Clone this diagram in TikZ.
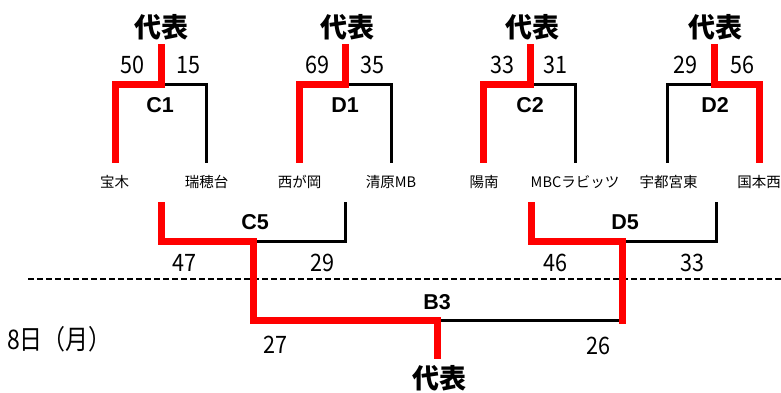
\documentclass[tikz,border=0pt]{standalone}
\usepackage{fontspec}
\newfontfamily\jp{Noto Sans CJK JP}
\newfontfamily\jpn{Noto Sans CJK JP}[FakeStretch=0.9]
\newfontfamily\jpd{Noto Sans CJK JP}[FakeStretch=0.85]
\newfontfamily\lat{Liberation Sans}
\definecolor{win}{RGB}{255,0,0}
\tikzset{
  redln/.style={draw=win, line width=7pt, line join=miter},
  blkln/.style={draw=black, line width=3pt, line join=miter},
  dashln/.style={draw=black, line width=2pt, dash pattern=on 6pt off 3pt},
  rep/.style={inner sep=0pt, font=\jp\bfseries\fontsize{27}{30}\selectfont},
  score/.style={inner sep=0pt, font=\jpn\fontsize{24}{26}\selectfont},
  match/.style={inner sep=0pt, font=\lat\bfseries\fontsize{21.5}{24}\selectfont},
  school/.style={inner sep=0pt, font=\jp\fontsize{14.5}{16}\selectfont},
  daylbl/.style={inner sep=0pt, anchor=west, font=\jpd\fontsize{27}{29}\selectfont},
}
\begin{document}
\begin{tikzpicture}[x=1pt, y=-1pt]
\path[use as bounding box, fill=white] (0,0) rectangle (781,392);

% ---------- coordinates ----------
% C1
\coordinate (c1t) at (161,44);  \coordinate (c1j) at (161,84);
\coordinate (c1l) at (115,84);  \coordinate (c1lb) at (115,163);
\coordinate (c1r) at (206,84);  \coordinate (c1rb) at (206,163);
% D1
\coordinate (d1t) at (345,44);  \coordinate (d1j) at (345,84);
\coordinate (d1l) at (299,84);  \coordinate (d1lb) at (299,163);
\coordinate (d1r) at (391.5,84);  \coordinate (d1rb) at (391.5,163);
% C2
\coordinate (c2t) at (530,44);  \coordinate (c2j) at (530,84);
\coordinate (c2l) at (483,84);  \coordinate (c2lb) at (483,163);
\coordinate (c2r) at (575.5,84);  \coordinate (c2rb) at (575.5,163);
% D2
\coordinate (d2t) at (714.5,44);  \coordinate (d2j) at (714.5,84);
\coordinate (d2l) at (667.5,84);  \coordinate (d2lb) at (667.5,163);
\coordinate (d2r) at (759.5,84);  \coordinate (d2rb) at (759.5,163);
% C5
\coordinate (c5l) at (161,202);  \coordinate (c5lc) at (161,241);
\coordinate (c5j) at (253,241);
\coordinate (c5rc) at (345,241); \coordinate (c5r) at (345,202);
% D5
\coordinate (d5l) at (531,202);  \coordinate (d5lc) at (531,241);
\coordinate (d5j) at (622,241);
\coordinate (d5rc) at (716,241); \coordinate (d5r) at (716,202);
% B3
\coordinate (b3l) at (253,320);  \coordinate (b3j) at (437,320);
\coordinate (b3r) at (622,320);  \coordinate (b3b) at (437,359);
\coordinate (b3re) at (622,323.5);
% day divider
\coordinate (dvl) at (28,279);   \coordinate (dvr) at (781,279);

% ---------- divider ----------
\draw[dashln] (dvl) -- (dvr);

% ---------- losing (black) branches ----------
\draw[blkln] (c1j) -- (c1r) -- (c1rb);
\draw[blkln] (d1j) -- (d1r) -- (d1rb);
\draw[blkln] (c2j) -- (c2r) -- (c2rb);
\draw[blkln] (d2j) -- (d2l) -- (d2lb);
\draw[blkln] (c5j) -- (c5rc) -- (c5r);
\draw[blkln] (d5j) -- (d5rc) -- (d5r);
\draw[blkln] (b3j) -- (b3r);

% ---------- winning (red) branches ----------
\draw[redln] (c1t) -- (c1j) -- (c1l) -- (c1lb);
\draw[redln] (d1t) -- (d1j) -- (d1l) -- (d1lb);
\draw[redln] (c2t) -- (c2j) -- (c2l) -- (c2lb);
\draw[redln] (d2t) -- (d2j) -- (d2r) -- (d2rb);
\draw[redln] (c5l) -- (c5lc) -- (c5j) -- (b3l) -- (b3j) -- (b3b);
\draw[redln] (d5l) -- (d5lc) -- (d5j) -- (b3re);

% ---------- representative labels ----------
\node[rep] (repc1) at (161.5,27) {代表};
\node[rep] (repd1) at (347,27) {代表};
\node[rep] (repc2) at (532,27) {代表};
\node[rep] (repd2) at (715,27) {代表};
\node[rep] (repb3) at (439,378) {代表};

% ---------- match labels ----------
\node[match] (mc1) at (160,105) {C1};
\node[match] (md1) at (345,105) {D1};
\node[match] (mc2) at (530,105) {C2};
\node[match] (md2) at (715,105) {D2};
\node[match] (mc5) at (255,222) {C5};
\node[match] (md5) at (625,222) {D5};
\node[match] (mb3) at (437,302) {B3};

% ---------- scores ----------
\node[score] (s1) at (132,65) {50};
\node[score] (s2) at (188,65) {15};
\node[score] (s3) at (317,65) {69};
\node[score] (s4) at (372,65) {35};
\node[score] (s5) at (502,65) {33};
\node[score] (s6) at (555,65) {31};
\node[score] (s7) at (685,65) {29};
\node[score] (s8) at (742,65) {56};
\node[score] (s9) at (184,263) {47};
\node[score] (s10) at (322,263) {29};
\node[score] (s11) at (555,263) {46};
\node[score] (s12) at (692,263) {33};
\node[score] (s13) at (275,345) {27};
\node[score] (s14) at (598,346) {26};

% ---------- schools ----------
\node[school] (t1) at (114.5,182) {宝木};
\node[school] (t2) at (206.5,182) {瑞穂台};
\node[school] (t3) at (299.5,182) {西が岡};
\node[school] (t4) at (391,182) {清原MB};
\node[school] (t5) at (484,182) {陽南};
\node[school] (t6) at (575,182) {MBCラビッツ};
\node[school] (t7) at (668.5,182) {宇都宮東};
\node[school] (t8) at (759,182) {国本西};

% ---------- day ----------
\node[daylbl] (day) at (7,339) {8日（月）};
\end{tikzpicture}
\end{document}
